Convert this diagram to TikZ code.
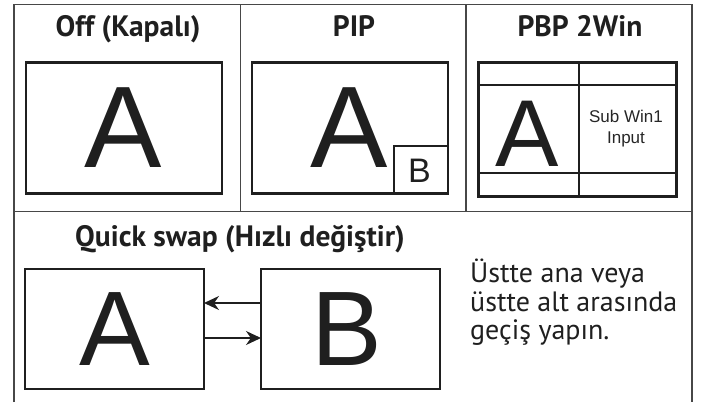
\documentclass[tikz,border=0pt]{standalone}
\usepackage{fontspec}
\usetikzlibrary{arrows.meta}
\newfontfamily\hfont{PT Sans}
\newfontfamily\afont{Liberation Sans}
\tikzset{
  grid/.style={draw=black!72, line width=1.6pt},
  scr/.style={draw=black!88, line width=2.5pt, inner sep=0pt, outer sep=0pt},
  thin/.style={draw=black!88, line width=2.2pt},
  head/.style={font=\hfont\bfseries\fontsize{29.5}{32}\selectfont, text=black!88, anchor=base, inner sep=0pt},
  big/.style={font=\afont\fontsize{116}{116}\selectfont, text=black!88, inner sep=0pt},
  note/.style={font=\hfont\fontsize{28}{30}\selectfont, text=black!88, anchor=base west, inner sep=0pt},
  arr/.style={draw=black!88, line width=1.4pt, -{Stealth[length=15pt,width=14pt]}},
}
\begin{document}
\begin{tikzpicture}[x=1pt,y=-1pt]
\useasboundingbox (0,0) rectangle (702,402);
% table grid
\coordinate (tl) at (14,4.3);
\coordinate (tr) at (692,4.3);
\coordinate (bl) at (14,402);
\coordinate (br) at (692,402);
\coordinate (ml) at (14,211.5);
\coordinate (mr) at (692,211.5);
\coordinate (c1t) at (240.5,4.3);
\coordinate (c1b) at (240.5,211.5);
\coordinate (c2t) at (466,4.3);
\coordinate (c2b) at (466,211.5);
\draw[grid] (bl) -- (tl) -- (tr) -- (br);
\draw[grid] (ml) -- (mr);
\draw[grid] (c1t) -- (c1b);
\draw[grid] (c2t) -- (c2b);
% headers
\node[head] (h1) at (128,36) {Off (Kapalı)};
\node[head] (h2) at (354,36) {PIP};
\node[head] (h3) at (580,36) {PBP 2Win};
% Off
\node[scr, minimum width=196pt, minimum height=131pt] (off) at (124,127.8) {};
\node[big] (offA) at (123,127.5) {A};
% PIP
\node[scr, minimum width=196pt, minimum height=131pt] (pip) at (350,127.8) {};
\node[big] (pipA) at (349,127.5) {A};
\node[thin, inner sep=0pt, outer sep=0pt, minimum width=54pt, minimum height=47pt] (pipb) at (421,169.5) {};
\node[font=\afont\fontsize{34}{34}\selectfont, text=black!88, inner sep=0pt] (pipB) at (419.5,171) {B};
% PBP
\node[scr, line width=2.8pt, minimum width=198pt, minimum height=134pt] (pbp) at (577.5,129.2) {};
\coordinate (pv1) at (579.3,62.7);
\coordinate (pv2) at (579.3,196);
\coordinate (ph1l) at (478,85);
\coordinate (ph1r) at (677,85);
\coordinate (ph2l) at (478,172.7);
\coordinate (ph2r) at (677,172.7);
\draw[thin] (pv1) -- (pv2);
\draw[thin] (ph1l) -- (ph1r);
\draw[thin] (ph2l) -- (ph2r);
\node[big, font=\afont\fontsize{95}{95}\selectfont] (pbpA) at (527.5,133.5) {A};
\node[font=\afont\fontsize{17}{21}\selectfont, text=black!85, align=center, inner sep=0pt] (sub) at (626,128.5) {Sub Win1\\Input};
% Quick swap
\node[head, anchor=base west] (h4) at (75,246) {Quick swap (Hızlı değiştir)};
\node[scr, minimum width=179pt, minimum height=120pt] (qa) at (114.5,329) {};
\node[scr, minimum width=179pt, minimum height=120pt] (qb) at (350.5,329) {};
\node[big, font=\afont\fontsize{106}{106}\selectfont] (qaA) at (115,329.5) {A};
\node[big, font=\afont\fontsize{106}{106}\selectfont] (qbB) at (346.5,329.5) {B};
\draw[arr] ([yshift=26pt]qb.west) -- ([yshift=26pt]qa.east);
\draw[arr] ([yshift=-9pt]qa.east) -- ([yshift=-9pt]qb.west);
\node[note] (t1) at (470,282) {Üstte ana veya};
\node[note] (t2) at (470,311) {üstte alt arasında};
\node[note] (t3) at (470,339.5) {geçiş yapın.};
\end{tikzpicture}
\end{document}
